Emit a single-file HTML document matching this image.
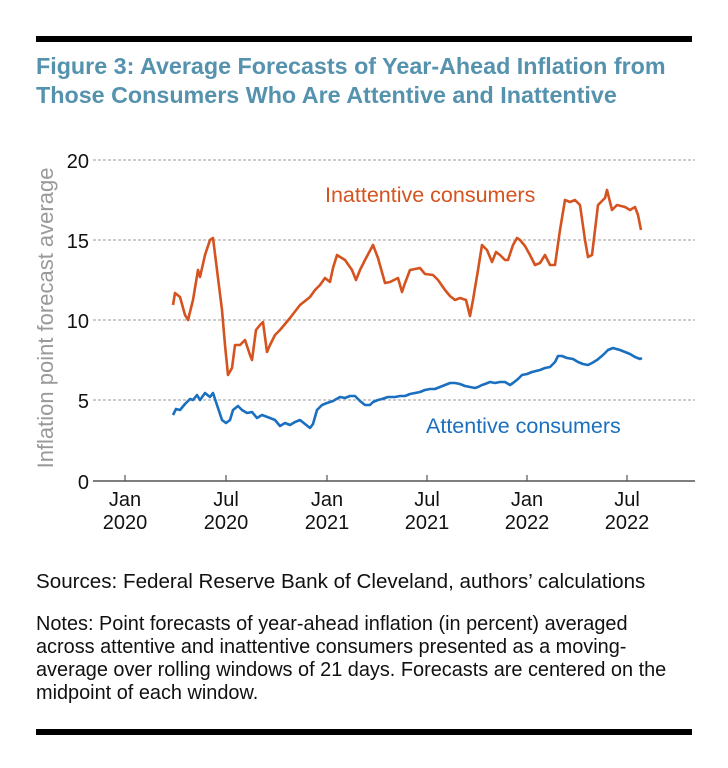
<!DOCTYPE html>
<html><head><meta charset="utf-8"><style>
body{margin:0;background:#fff;width:728px;height:768px;overflow:hidden;font-family:"Liberation Sans",Arial,sans-serif;}
.t{position:absolute;left:36px;top:52px;font-weight:bold;font-size:23.3px;line-height:29px;color:#5592ad;white-space:nowrap;}
.n{position:absolute;left:36px;font-size:19.9px;line-height:23px;color:#111;white-space:nowrap;}
</style></head><body>
<div style="position:absolute;left:36px;top:36px;width:656px;height:6px;background:#000"></div>
<div class="t">Figure 3: Average Forecasts of Year-Ahead Inflation from<br>Those Consumers Who Are Attentive and Inattentive</div>
<svg width="728" height="768" style="position:absolute;left:0;top:0" font-family="Liberation Sans,Arial,sans-serif">
<g stroke="#999" stroke-dasharray="3,2" stroke-width="1">
<line x1="93" x2="695" y1="160" y2="160"/><line x1="93" x2="695" y1="240" y2="240"/><line x1="93" x2="695" y1="320" y2="320"/><line x1="93" x2="695" y1="400" y2="400"/></g>
<line x1="93" x2="695" y1="481" y2="481" stroke="#555" stroke-width="1.5"/>
<g stroke="#555" stroke-width="1.2"><line x1="125" x2="125" y1="475" y2="481"/><line x1="226" x2="226" y1="475" y2="481"/><line x1="327" x2="327" y1="475" y2="481"/><line x1="427" x2="427" y1="475" y2="481"/><line x1="527" x2="527" y1="475" y2="481"/><line x1="627" x2="627" y1="475" y2="481"/></g>
<g font-size="20" fill="#111" text-anchor="end"><text x="89" y="168">20</text><text x="89" y="248">15</text><text x="89" y="328">10</text><text x="89" y="408">5</text><text x="89" y="489">0</text></g>
<g font-size="20" fill="#111" text-anchor="middle">
<text x="125" y="506">Jan</text><text x="125" y="529">2020</text>
<text x="226" y="506">Jul</text><text x="226" y="529">2020</text>
<text x="327" y="506">Jan</text><text x="327" y="529">2021</text>
<text x="427" y="506">Jul</text><text x="427" y="529">2021</text>
<text x="527" y="506">Jan</text><text x="527" y="529">2022</text>
<text x="627" y="506">Jul</text><text x="627" y="529">2022</text></g>
<text transform="translate(53,318) rotate(-90)" font-size="22" fill="#999" text-anchor="middle">Inflation point forecast average</text>
<text x="325" y="202" font-size="21.5" fill="#d4531f">Inattentive consumers</text>
<text x="426" y="433" font-size="21.5" fill="#1a6fbf">Attentive consumers</text>
<polyline fill="none" stroke="#d4531f" stroke-width="2.6" stroke-linejoin="round" points="173,305 175,293 180,297 185,315 188,320 193,300 198,270 200,277 205,255 210,240 213,238 217,270 222,310 225,345 228,375 232,368 235,345 240,345 245,340 250,355 252,360 256,330 260,325 263,322 267,352 270,345 275,335 280,330 290,318 300,305 310,297 315,290 320,285 325,278 330,282 333,268 337,255 345,260 352,270 356,280 360,270 365,260 373,245 378,258 385,283 390,282 398,278 402,292 405,283 410,270 420,268 425,274 433,275 438,280 445,290 450,296 455,300 460,298 466,300 470,316 473,300 478,270 482,245 487,250 492,262 496,252 500,255 505,260 508,260 513,245 517,238 520,240 525,246 530,255 535,265 540,263 545,255 550,265 555,265 560,230 565,200 570,202 575,200 580,205 585,240 588,257 592,255 598,205 605,198 607,190 612,210 617,205 625,207 630,210 635,207 638,215 641,230"/>
<polyline fill="none" stroke="#1a6fbf" stroke-width="2.6" stroke-linejoin="round" points="173,415 176,409 180,410 185,404 190,399 193,400 197,395 200,400 205,393 210,397 213,393 217,405 222,420 226,423 230,420 233,410 238,406 242,410 247,413 252,412 257,418 262,415 270,418 275,420 280,426 285,423 290,425 295,422 300,420 305,424 310,428 313,424 317,410 322,405 327,403 333,401 340,397 345,398 350,396 355,396 360,401 365,405 370,405 373,402 378,400 382,399 388,397 395,397 400,396 405,396 410,394 415,393 420,392 425,390 430,389 435,389 440,387 445,385 450,383 455,383 460,384 465,386 470,387 475,388 478,387 482,385 485,384 490,382 495,383 500,382 505,382 510,385 513,383 518,379 522,375 527,374 532,372 540,370 545,368 550,367 555,362 558,356 562,356 567,358 573,359 578,362 583,364 588,365 592,363 597,360 603,355 608,350 613,348 620,350 625,352 630,354 635,357 640,359 642,358"/>
</svg>
<div class="n" style="top:570px;font-size:20.6px">Sources: Federal Reserve Bank of Cleveland, authors’ calculations</div>
<div class="n" style="top:613px">Notes: Point forecasts of year-ahead inflation (in percent) averaged<br>across attentive and inattentive consumers presented as a moving-<br>average over rolling windows of 21 days. Forecasts are centered on the<br>midpoint of each window.</div>
<div style="position:absolute;left:36px;top:729px;width:656px;height:6px;background:#000"></div>
</body></html>
